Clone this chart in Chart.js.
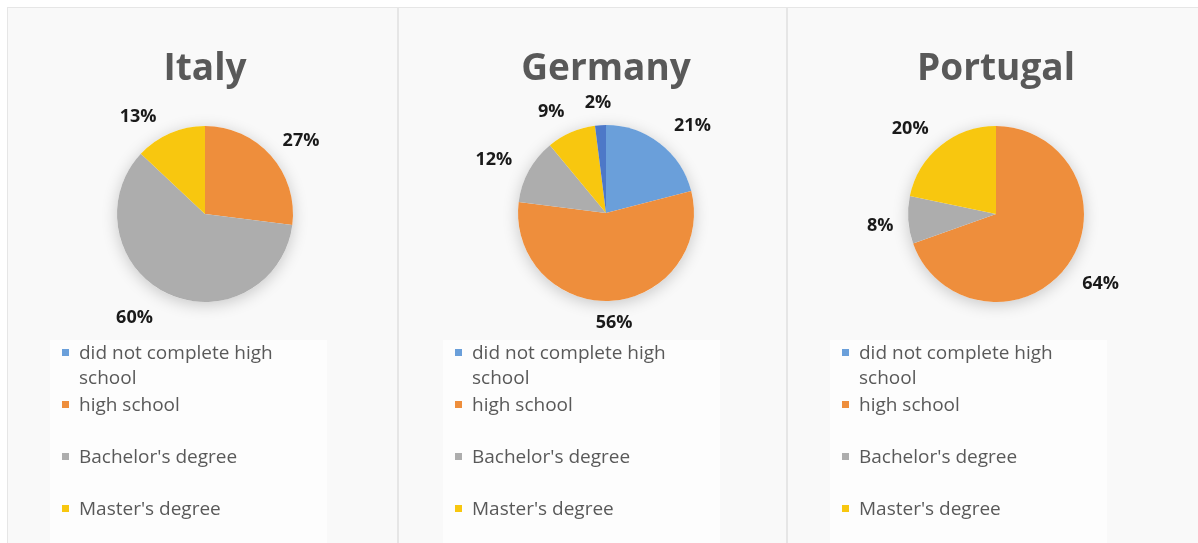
<!DOCTYPE html>
<html lang="en">
<head>
    <meta charset="UTF-8">
    <title>Education level by country</title>
    <script src="https://cdn.jsdelivr.net/npm/chart.js"></script>
    <style>
        body {
            margin: 0;
            width: 1198px;
            height: 543px;
            overflow: hidden;
            background: #ffffff;
            font-family: "Open Sans", sans-serif;
        }
        .panel {
            position: absolute;
            top: 7px;
            height: 545px;
            box-sizing: border-box;
            background: #f9f9f9;
            border: 1px solid #e6e6e6;
        }
        .panel canvas {
            position: absolute;
            left: 0;
            top: -7px;
        }
        .legend {
            position: absolute;
            top: 332px;
            width: 265px;
            padding-left: 12px;
            background: #fdfdfd;
        }
        .legend-item {
            position: relative;
            min-height: 52px;
            padding-left: 17px;
            width: 212px;
            font-size: 19px;
            line-height: 25px;
            color: #595959;
        }
        .legend-item .box {
            position: absolute;
            left: 0;
            top: 9px;
            width: 7px;
            height: 7px;
        }
    </style>
</head>
<body>
    <div id="charts"></div>

    <script>
        // Education level categories and slice colours
        const categories = ['did not complete high school', 'high school', "Bachelor's degree", "Master's degree", 'Doctorate'];
        const sliceColors = ['#6a9fda', '#ee8e3c', '#adadad', '#f8c70f', '#4d78c8'];

        // Values per country (shown as percentages)
        const countries = ['Italy', 'Germany', 'Portugal'];
        const italyValues = [0, 27, 60, 13, 0];
        const germanyValues = [21, 56, 12, 9, 2];
        const portugalValues = [0, 64, 8, 20, 0];
        const legendCount = 4;

        const seriesValues = [italyValues, germanyValues, portugalValues];

        // panel placement on the page
        const panels = [
            { left: 7,   width: 391, cx: 205, cy: 213, legendX: 62 },
            { left: 398, width: 389, cx: 606, cy: 212, legendX: 455 },
            { left: 787, width: 420, cx: 996, cy: 213, legendX: 842 }
        ];
        // small hand nudges for labels that sit off the default ring
        const labelNudges = [
            [[0, 0], [0, 0], [-16, 4], [-16, 4], [0, 0]],
            [[8, 0], [0, 0], [0, 0], [-4, 0], [0, 0]],
            [[0, 0], [0, 6], [12, 4], [-5, 0], [0, 0]]
        ];
        const radius = 88;
        const canvasHeight = 340;
        const titleSize = 37;
        const titleTop = 46;

        // soft shadow behind the pie
        const pieShadow = {
            id: 'pieShadow',
            beforeDatasetsDraw(chart) {
                const arc = chart.getDatasetMeta(0).data[0];
                if (!arc) return;
                const ctx = chart.ctx;
                ctx.save();
                ctx.shadowColor = 'rgba(0, 0, 0, 0.2)';
                ctx.shadowBlur = 16;
                ctx.shadowOffsetY = 3;
                ctx.fillStyle = '#ffffff';
                ctx.beginPath();
                ctx.arc(arc.x, arc.y, arc.outerRadius, 0, Math.PI * 2);
                ctx.fill();
                ctx.restore();
            }
        };

        // percentage labels outside each slice, on a flattened ring
        const outsideLabels = {
            id: 'outsideLabels',
            afterDatasetsDraw(chart, args, opts) {
                const ctx = chart.ctx;
                const values = chart.data.datasets[0].data;
                const nudges = opts.nudges || [];
                ctx.save();
                ctx.font = 'bold 18px "Open Sans"';
                ctx.fillStyle = '#1a1a1a';
                ctx.textAlign = 'center';
                ctx.textBaseline = 'middle';
                chart.getDatasetMeta(0).data.forEach((arc, i) => {
                    if (!values[i]) return;
                    const mid = (arc.startAngle + arc.endAngle) / 2;
                    const n = nudges[i] || [0, 0];
                    const x = arc.x + Math.cos(mid) * (arc.outerRadius + 40) + n[0];
                    const y = arc.y + Math.sin(mid) * (arc.outerRadius + 22) + n[1];
                    ctx.fillText(values[i] + '%', x, y);
                });
                ctx.restore();
            }
        };

        const container = document.getElementById('charts');

        countries.forEach((country, n) => {
            const p = panels[n];

            const panel = document.createElement('div');
            panel.className = 'panel';
            panel.style.left = p.left + 'px';
            panel.style.width = p.width + 'px';
            container.appendChild(panel);

            const canvas = document.createElement('canvas');
            canvas.width = p.width;
            canvas.height = canvasHeight;
            canvas.style.left = '-1px';
            panel.appendChild(canvas);

            const localX = p.cx - p.left;
            const titleBox = titleSize * 1.2;

            new Chart(canvas, {
                type: 'pie',
                data: {
                    labels: categories,
                    datasets: [{
                        data: seriesValues[n],
                        backgroundColor: sliceColors,
                        borderWidth: 0
                    }]
                },
                options: {
                    responsive: false,
                    animation: false,
                    layout: {
                        padding: {
                            left: localX - radius,
                            right: p.width - (localX + radius),
                            top: 0,
                            bottom: canvasHeight - (p.cy + radius)
                        }
                    },
                    plugins: {
                        title: {
                            display: true,
                            text: country,
                            color: '#595959',
                            font: { family: '"Open Sans"', size: titleSize, weight: 'bold', lineHeight: 1.2 },
                            padding: { top: titleTop, bottom: (p.cy - radius) - titleTop - titleBox }
                        },
                        legend: { display: false },
                        tooltip: { enabled: false },
                        outsideLabels: { nudges: labelNudges[n] }
                    }
                },
                plugins: [pieShadow, outsideLabels]
            });

            // legend below the pie
            const legend = document.createElement('div');
            legend.className = 'legend';
            legend.style.left = (p.legendX - p.left - 13) + 'px';
            categories.slice(0, legendCount).forEach((name, i) => {
                const item = document.createElement('div');
                item.className = 'legend-item';
                const box = document.createElement('span');
                box.className = 'box';
                box.style.background = sliceColors[i];
                item.appendChild(box);
                item.appendChild(document.createTextNode(name));
                legend.appendChild(item);
            });
            panel.appendChild(legend);
        });
    </script>
</body>
</html>
